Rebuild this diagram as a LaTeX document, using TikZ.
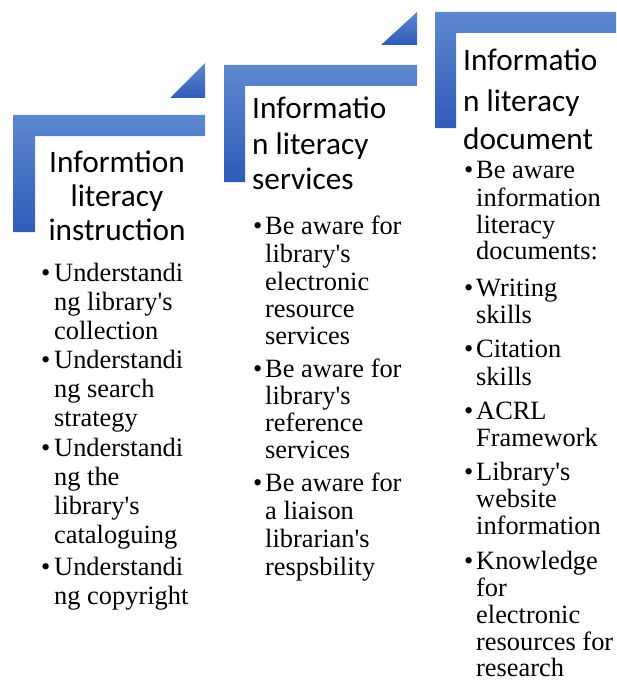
\documentclass[tikz,border=0pt]{standalone}
\usepackage{fontspec}
\newfontfamily\bodyfont{Liberation Serif}
\newfontfamily\titlefont{Carlito}
\definecolor{bartop}{HTML}{5D88D0}
\definecolor{barbot}{HTML}{2E5CB8}
\begin{document}
\begin{tikzpicture}[x=1pt,y=-1pt,
  stepbar/.style={top color=bartop,bottom color=barbot,draw=none},
  body/.style={anchor=base west,inner sep=0pt,font=\bodyfont\fontsize{26.4}{28}\selectfont},
  ttl/.style={inner sep=0pt,font=\titlefont\fontsize{31.3}{33}\selectfont}]
\clip (0,0) rectangle (616,682);
% step shapes
\path[stepbar] (13,115) -- (205,115) -- (205,136) -- (35,136) -- (35,232) -- (13,232) -- cycle;
\path[stepbar] (170,98) -- (205,98) -- (205,63) -- cycle;
\path[stepbar] (224,65) -- (417,65) -- (417,86) -- (245,86) -- (245,182) -- (224,182) -- cycle;
\path[stepbar] (381,45) -- (417,45) -- (417,12) -- cycle;
\path[stepbar] (435,12) -- (630,12) -- (630,33) -- (456,33) -- (456,128) -- (435,128) -- cycle;
% titles
\node[ttl,anchor=base] (t1a) at (117,172) {Informtion};
\node[ttl,anchor=base] (t1b) at (117,206) {literacy};
\node[ttl,anchor=base] (t1c) at (117,240) {instruction};
\node[ttl,anchor=base west] (t2a) at (252,119) {Informatio};
\node[ttl,anchor=base west] (t2b) at (252,154) {n literacy};
\node[ttl,anchor=base west] (t2c) at (252,189) {services};
\node[ttl,anchor=base west] (t3a) at (463,71) {Informatio};
\node[ttl,anchor=base west] (t3b) at (463,111) {n literacy};
\node[ttl,anchor=base west] (t3c) at (463,149) {document};
% column 1
\foreach \yy/\txt [count=\i] in {281/Understandi, 310/ng library's, 339/collection,
  368/Understandi, 397/ng search, 426/strategy,
  456/Understandi, 485/ng the, 514/library's, 543/cataloguing,
  575/Understandi, 604/ng copyright}
  \node[body] (a\i) at (54,\yy) {\txt};
\foreach \yy [count=\i] in {281,368,456,575}
  \node[body] (ab\i) at (41,\yy) {•};
% column 2
\foreach \yy/\txt [count=\i] in {234/Be aware for, 262/library's, 290/electronic, 317/resource, 344/services,
  377/Be aware for, 404/library's, 431/reference, 458/services,
  491/Be aware for, 519/a liaison, 547/librarian's, 575/respsbility}
  \node[body] (b\i) at (265,\yy) {\txt};
\foreach \yy [count=\i] in {234,377,491}
  \node[body] (bb\i) at (253,\yy) {•};
% column 3
\foreach \yy/\txt [count=\i] in {178/Be aware, 206/information, 233/literacy, 259/documents:,
  296/Writing, 323/skills,
  357/Citation, 385/skills,
  419/ACRL, 446/Framework,
  480/Library's, 507/website, 534/information,
  569/Knowledge, 596/for, 623/electronic, 650/resources for, 676/research}
  \node[body] (c\i) at (476,\yy) {\txt};
\foreach \yy [count=\i] in {178,296,357,419,480,569}
  \node[body] (cb\i) at (464,\yy) {•};
\end{tikzpicture}
\end{document}
